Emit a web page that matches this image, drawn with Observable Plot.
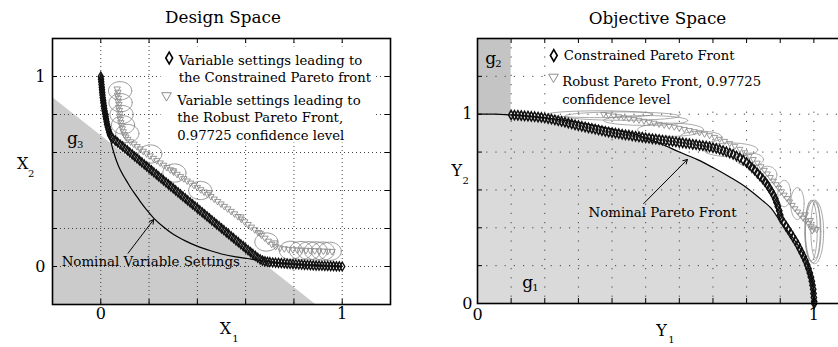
<!DOCTYPE html>
<html><head><meta charset="utf-8">
<script src="https://cdn.jsdelivr.net/npm/d3@7"></script>
<script src="https://cdn.jsdelivr.net/npm/@observablehq/plot@0.6"></script>
<style>
html,body{margin:0;padding:0;background:#fff;overflow:hidden;}
#wrap{position:relative;width:838px;height:347px;overflow:hidden;background:#fff;}
#left{position:absolute;left:0;top:0;width:420px;height:347px;}
#right{position:absolute;left:420px;top:0;width:460px;height:347px;}
#wrap svg{max-width:none !important;display:block;}
</style></head>
<body><div id="wrap"><div id="left"></div><div id="right"></div></div>
<script>
// ---------- text ----------
const panelTitles = ["Design Space", "Objective Space"];
const designLegendLabels = ["Variable settings leading to\nthe Constrained Pareto front",
  "Variable settings leading to\nthe Robust Pareto Front,\n0.97725 confidence level"];
const objLegendLabels = ["Constrained Pareto Front", "Robust Pareto Front, 0.97725\nconfidence level"];

// ---------- axes ----------
const designDomain = [-0.2, 1.2];
const designGrid = [0, 0.2, 0.4, 0.6, 0.8, 1];
const designTickLabels = [0, 1];
const objXDomain = [0, 1.1];
const objYDomain = [0, 1.4];
const objGridX = [0.1, 0.2, 0.3, 0.4, 0.5, 0.6, 0.7, 0.8, 0.9, 1.0];
const objGridY = [0.2, 0.4, 0.6, 0.8, 1.0, 1.2];
const objTickLabels = [0, 1];

// ---------- constraint regions ----------
const g3Boundary = [[-0.2, 0.89], [0.89, -0.2]];           // X1 + X2 limit
const g2Region = {x1: 0, x2: 0.1, y1: 1.0, y2: 1.4};         // Y1 lower limit
const regionLabels = [
  {panel: "design", g: "g", sub: "3", x: -0.14, y: 0.643},
  {panel: "obj", g: "g", sub: "2", x: 0.023, y: 1.263},
  {panel: "obj", g: "g", sub: "1", x: 0.133, y: 0.083}
];

// ---------- design space ----------
const designNominal = [[0.000,1.000],[0.020,0.780],[0.039,0.680],[0.045,0.640],[0.055,0.595],[0.066,0.553],
  [0.080,0.510],[0.095,0.475],[0.108,0.448],[0.125,0.412],[0.145,0.376],[0.163,0.343],[0.190,0.298],
  [0.219,0.255],[0.260,0.208],[0.302,0.168],[0.350,0.135],[0.399,0.107],[0.455,0.083],[0.510,0.063],
  [0.560,0.051],[0.607,0.042],[0.650,0.034],[0.676,0.028],[0.760,0.016],[0.880,0.006],[1.000,0.000]];

const designConstrained = [[0.000,1.000],[0.001,0.986],[0.002,0.972],[0.003,0.958],[0.004,0.944],[0.005,0.930],
  [0.006,0.916],[0.007,0.902],[0.008,0.888],[0.010,0.874],[0.011,0.860],[0.013,0.846],[0.014,0.832],[0.016,0.818],
  [0.018,0.804],[0.020,0.790],[0.022,0.776],[0.024,0.762],[0.026,0.748],[0.029,0.734],[0.032,0.720],[0.035,0.706],
  [0.038,0.694],[0.042,0.684],
  [0.050,0.674],[0.060,0.663],[0.070,0.653],[0.080,0.642],[0.090,0.632],[0.100,0.621],[0.110,0.611],[0.120,0.600],
  [0.130,0.590],[0.140,0.579],[0.150,0.569],[0.160,0.558],[0.170,0.548],[0.180,0.537],[0.190,0.527],[0.200,0.516],
  [0.210,0.506],[0.220,0.495],[0.230,0.485],[0.240,0.474],[0.250,0.464],[0.260,0.453],[0.270,0.443],[0.280,0.432],
  [0.290,0.422],[0.300,0.411],[0.310,0.401],[0.320,0.390],[0.330,0.380],[0.340,0.369],[0.350,0.359],[0.360,0.348],
  [0.370,0.338],[0.380,0.327],[0.390,0.317],[0.400,0.306],[0.410,0.296],[0.420,0.285],[0.430,0.275],[0.440,0.264],
  [0.450,0.254],[0.460,0.243],[0.470,0.233],[0.480,0.222],[0.490,0.212],[0.500,0.201],[0.510,0.191],[0.520,0.180],
  [0.530,0.170],[0.540,0.159],[0.550,0.149],[0.560,0.138],[0.570,0.128],[0.580,0.117],[0.590,0.107],[0.600,0.096],
  [0.610,0.086],[0.620,0.076],[0.630,0.066],[0.640,0.056],[0.650,0.046],[0.660,0.038],[0.670,0.031],
  [0.680,0.027],[0.690,0.025],[0.700,0.023],[0.712,0.021],[0.724,0.020],[0.736,0.019],[0.748,0.018],[0.760,0.016],
  [0.772,0.015],[0.784,0.014],[0.796,0.013],[0.808,0.012],[0.820,0.011],[0.832,0.010],[0.844,0.009],[0.856,0.008],
  [0.868,0.007],[0.880,0.006],[0.892,0.005],[0.904,0.005],[0.916,0.004],[0.928,0.003],[0.940,0.003],[0.952,0.002],
  [0.964,0.002],[0.976,0.001],[0.988,0.001],[1.000,0.000]];

const designRobust = [[0.068,0.935],[0.071,0.918],[0.069,0.902],[0.073,0.886],[0.072,0.870],[0.075,0.854],
  [0.074,0.838],[0.077,0.822],[0.079,0.806],[0.078,0.790],[0.081,0.774],[0.083,0.758],[0.086,0.742],[0.089,0.726],
  [0.093,0.710],[0.098,0.695],[0.104,0.682],[0.112,0.670],[0.124,0.657],[0.137,0.645],[0.150,0.632],[0.163,0.620],
  [0.176,0.607],[0.190,0.594],[0.204,0.583],[0.218,0.570],[0.232,0.558],[0.246,0.546],[0.260,0.534],[0.274,0.522],
  [0.288,0.510],[0.302,0.498],[0.316,0.486],[0.330,0.474],[0.344,0.463],[0.358,0.451],[0.372,0.440],[0.386,0.428],
  [0.400,0.417],[0.414,0.405],[0.428,0.393],[0.442,0.381],[0.456,0.369],[0.470,0.356],[0.484,0.343],[0.498,0.330],
  [0.512,0.317],[0.526,0.304],[0.540,0.291],[0.554,0.278],[0.568,0.264],[0.582,0.250],[0.596,0.236],[0.610,0.222],
  [0.624,0.208],[0.638,0.194],[0.652,0.180],[0.666,0.165],[0.680,0.150],[0.694,0.134],[0.708,0.118],[0.724,0.106],
  [0.742,0.098],[0.760,0.094],[0.778,0.091],[0.796,0.089],[0.814,0.088],[0.832,0.087],[0.850,0.086],[0.868,0.085],
  [0.886,0.084],[0.904,0.083],[0.922,0.082],[0.940,0.081],[0.958,0.080],
  [0.300,0.505],[0.450,0.390],[0.580,0.262],[0.660,0.176],[0.720,0.125]];

const designCircleCenters = [[0.080,0.925],[0.082,0.862],[0.086,0.800],[0.092,0.745],[0.110,0.700],
  [0.205,0.592],[0.305,0.492],[0.412,0.400],[0.686,0.129],[0.787,0.085],[0.829,0.084],[0.863,0.083],
  [0.891,0.082],[0.920,0.081],[0.948,0.080]];
const designCircleRadius = 0.048;

const designNote = [{text: "Nominal Variable Settings", x: 0.207, y: 0.005}];
const designArrow = [{x1: 0.113, y1: 0.07, x2: 0.219, y2: 0.247}];

// ---------- objective space ----------
const objNominal = [[0.000,1.000],[0.050,1.000],[0.100,0.996],[0.150,0.990],[0.200,0.981],[0.250,0.970],
  [0.300,0.956],[0.350,0.940],[0.400,0.921],[0.450,0.901],[0.475,0.890],[0.500,0.874],[0.550,0.840],[0.600,0.800],
  [0.654,0.760],[0.700,0.718],[0.750,0.668],[0.800,0.612],[0.850,0.540],[0.872,0.505],[0.900,0.435],[0.930,0.365],
  [0.961,0.285],[0.980,0.210],[0.992,0.140],[0.998,0.080],[1.000,0.030],[1.001,0.000]];

const objConstrained = [[0.100,0.996],[0.110,0.995],[0.120,0.994],[0.130,0.993],[0.140,0.991],[0.150,0.990],
  [0.160,0.988],[0.170,0.987],[0.180,0.985],[0.190,0.983],[0.200,0.980],[0.210,0.977],[0.220,0.974],[0.230,0.970],
  [0.240,0.966],[0.250,0.962],[0.260,0.958],[0.270,0.953],[0.280,0.949],[0.290,0.944],[0.300,0.940],[0.310,0.936],
  [0.320,0.932],[0.330,0.928],[0.340,0.925],[0.350,0.921],[0.360,0.917],[0.370,0.913],[0.380,0.909],[0.390,0.906],
  [0.400,0.903],[0.410,0.900],[0.420,0.897],[0.430,0.894],[0.440,0.891],[0.450,0.889],[0.460,0.886],[0.470,0.883],
  [0.480,0.880],[0.490,0.878],[0.500,0.875],[0.510,0.873],[0.520,0.870],[0.530,0.868],[0.540,0.866],[0.550,0.863],
  [0.560,0.861],[0.570,0.858],[0.580,0.856],[0.590,0.854],[0.600,0.851],[0.610,0.849],[0.620,0.846],[0.630,0.844],
  [0.640,0.841],[0.650,0.839],[0.660,0.836],[0.670,0.834],[0.680,0.831],[0.690,0.827],[0.700,0.823],[0.710,0.819],
  [0.720,0.814],[0.730,0.808],[0.740,0.802],[0.750,0.795],[0.760,0.788],[0.770,0.779],[0.780,0.770],[0.790,0.758],
  [0.800,0.745],[0.808,0.732],[0.816,0.718],[0.824,0.704],[0.832,0.689],[0.840,0.673],[0.848,0.658],[0.855,0.643],
  [0.862,0.626],[0.868,0.609],[0.874,0.592],[0.880,0.573],[0.885,0.553],[0.889,0.533],[0.893,0.512],[0.897,0.490],
  [0.900,0.468],[0.903,0.447],[0.910,0.428],[0.917,0.409],[0.924,0.390],[0.931,0.371],[0.938,0.351],[0.945,0.331],
  [0.952,0.310],[0.958,0.289],[0.964,0.268],[0.970,0.247],[0.975,0.226],[0.980,0.204],[0.984,0.183],[0.988,0.161],
  [0.991,0.140],[0.994,0.118],[0.996,0.097],[0.998,0.075],[0.999,0.053],[1.000,0.032],[1.001,0.010],[1.001,0.000]];

const objRobust = [[0.375,1.000],[0.390,0.996],[0.405,0.992],[0.420,0.988],[0.435,0.983],[0.450,0.978],
  [0.465,0.973],[0.480,0.969],[0.495,0.964],[0.510,0.959],[0.525,0.954],[0.540,0.948],[0.555,0.943],[0.570,0.938],
  [0.585,0.933],[0.600,0.927],[0.615,0.921],[0.630,0.915],[0.645,0.909],[0.660,0.903],[0.675,0.896],[0.690,0.888],
  [0.705,0.879],[0.720,0.869],[0.735,0.858],[0.750,0.846],[0.765,0.832],[0.780,0.816],[0.795,0.798],[0.808,0.780],
  [0.820,0.762],[0.832,0.743],[0.843,0.724],[0.853,0.705],[0.862,0.686],[0.871,0.667],[0.880,0.648],[0.888,0.629],
  [0.896,0.610],[0.904,0.592],[0.912,0.574],[0.920,0.556],[0.928,0.538],[0.936,0.520],[0.944,0.502],[0.952,0.485],
  [0.960,0.468],[0.968,0.452],[0.976,0.437],[0.984,0.423],[0.992,0.410],[1.000,0.400],[1.008,0.392],
  [0.990,0.440],[0.975,0.470],[0.995,0.385]];

// ellipses: [centre Y1, centre Y2, half-width, half-height]
const objEllipses = [[0.365,1.000,0.155,0.018],[0.430,0.990,0.170,0.022],[0.500,0.967,0.125,0.026],
  [0.574,0.918,0.098,0.035],[0.664,0.880,0.062,0.030],[0.753,0.812,0.080,0.036],[0.810,0.760,0.040,0.035],
  [0.862,0.680,0.028,0.045],[0.912,0.581,0.019,0.070],[0.951,0.528,0.020,0.084],[0.992,0.385,0.018,0.160],
  [0.997,0.380,0.024,0.165],[1.002,0.378,0.027,0.168],[1.005,0.390,0.014,0.150]];

const objNote = [{text: "Nominal Pareto Front", x: 0.55, y: 0.455}];
const objArrow = [{x1: 0.494, y1: 0.528, x2: 0.624, y2: 0.761}];

// ---------- helpers ----------
const angles = d3.range(0, 361, 6).map(a => a * Math.PI / 180);
const outline = list => list.flatMap((e, i) =>
  angles.map(t => ({id: i, x: e[0] + e[2] * Math.cos(t), y: e[1] + e[3] * Math.sin(t)})));
const X = d => d[0], Y = d => d[1];
const FONT = "DejaVu Serif";

function grids(gx, gy, dash) {
  return [
    Plot.ruleX(gx, {stroke: "#444", strokeWidth: 1, strokeDasharray: dash}),
    Plot.ruleY(gy, {stroke: "#444", strokeWidth: 1, strokeDasharray: dash})
  ];
}
function ticks(fw, fh, gx, gy) {
  return [
    Plot.tickX(gx, {x: d => d, insetTop: fh - 5, stroke: "#000"}),
    Plot.tickX(gx, {x: d => d, insetBottom: fh - 5, stroke: "#000"}),
    Plot.tickY(gy, {y: d => d, insetRight: fw - 5, stroke: "#000"}),
    Plot.tickY(gy, {y: d => d, insetLeft: fw - 5, stroke: "#000"})
  ];
}

// ---------- left: design space ----------
const L = {w: 420, h: 347, ml: 52, mr: 30, mt: 38, mb: 43};
const Lfw = L.w - L.ml - L.mr, Lfh = L.h - L.mt - L.mb;
const left = Plot.plot({
  width: L.w, height: L.h, marginLeft: L.ml, marginRight: L.mr, marginTop: L.mt, marginBottom: L.mb,
  x: {domain: designDomain}, y: {domain: designDomain},
  style: {fontFamily: FONT, color: "#000", background: "transparent"},
  marks: [
    Plot.areaY(g3Boundary, {x: X, y1: designDomain[0], y2: Y, fill: "#cbcbcb"}),
    ...grids(designGrid, designGrid, "1,3"),
    Plot.frame({fill: "white", stroke: "none", insetLeft: 108, insetRight: 17, insetTop: 8, insetBottom: 162}),
    Plot.line(designNominal, {x: X, y: Y, stroke: "#000", strokeWidth: 1.2, curve: "catmull-rom"}),
    Plot.line(outline(designCircleCenters.map(c => [c[0], c[1], designCircleRadius, designCircleRadius])),
      {x: "x", y: "y", z: "id", stroke: "#7d7d7d", strokeWidth: 0.8}),
    Plot.dot(designRobust, {x: X, y: Y, symbol: "triangle", rotate: 180, r: 2.4, stroke: "#8e8e8e", strokeWidth: 0.9, fill: "none"}),
    Plot.dot(designConstrained, {x: X, y: Y, symbol: "diamond", r: 2.7, stroke: "#111", strokeWidth: 1.4, fill: "none"}),
    Plot.arrow(designArrow, {x1: "x1", y1: "y1", x2: "x2", y2: "y2", stroke: "#000", strokeWidth: 1, headLength: 7}),
    Plot.text(designNote, {x: "x", y: "y", text: "text", fontSize: 13.4, lineAnchor: "bottom", textAnchor: "middle"}),
    Plot.text(regionLabels.filter(d => d.panel === "design"), {x: "x", y: "y", text: "g", fontSize: 17, textAnchor: "start", lineAnchor: "bottom"}),
    Plot.text(regionLabels.filter(d => d.panel === "design"), {x: "x", y: "y", text: "sub", fontSize: 10, textAnchor: "start", lineAnchor: "bottom", dx: 10, dy: 4}),
    // legend
    Plot.dot([0], {frameAnchor: "top-left", dx: 116.7, dy: 19.5, symbol: "diamond", r: 3.6, stroke: "#000", strokeWidth: 1.6, fill: "none"}),
    Plot.dot([0], {frameAnchor: "top-left", dx: 114, dy: 57, symbol: "triangle", rotate: 180, r: 3.6, stroke: "#8e8e8e", strokeWidth: 1, fill: "none"}),
    Plot.text([designLegendLabels[0]], {frameAnchor: "top-left", dx: 126.3, dy: 14.3, text: d => d, fontSize: 13.2, textAnchor: "start", lineAnchor: "top", lineHeight: 1.31}),
    Plot.text([designLegendLabels[1]], {frameAnchor: "top-left", dx: 124.7, dy: 53.3, text: d => d, fontSize: 13.2, textAnchor: "start", lineAnchor: "top", lineHeight: 1.36}),
    ...ticks(Lfw, Lfh, designGrid, designGrid),
    Plot.axisX({ticks: designTickLabels, tickSize: 0, tickPadding: 3, fontSize: 16, label: null, tickFormat: d3.format("d")}),
    Plot.axisY({ticks: designTickLabels, tickSize: 0, tickPadding: 7, fontSize: 16, label: null, tickFormat: d3.format("d")}),
    Plot.text([panelTitles[0]], {frameAnchor: "top", dx: 1.5, dy: -15.3, text: d => d, fontSize: 16.8, lineAnchor: "bottom"}),
    Plot.text(["X"], {frameAnchor: "bottom", dx: 4, dy: 24.5, text: d => d, fontSize: 16, lineAnchor: "middle"}),
    Plot.text(["1"], {frameAnchor: "bottom", dx: 14, dy: 34.5, text: d => d, fontSize: 10, lineAnchor: "middle"}),
    Plot.text(["X"], {frameAnchor: "left", dx: -35.5, dy: -7.7, text: d => d, fontSize: 16, lineAnchor: "middle"}),
    Plot.text(["2"], {frameAnchor: "left", dx: -24.5, dy: 2, text: d => d, fontSize: 10, lineAnchor: "middle"}),
    Plot.frame({stroke: "#000", strokeWidth: 1.6})
  ]
});
document.getElementById("left").appendChild(left);

// ---------- right: objective space ----------
const R = {w: 460, h: 347, ml: 57, mr: 33, mt: 38, mb: 44};
const Rfw = R.w - R.ml - R.mr, Rfh = R.h - R.mt - R.mb;
const right = Plot.plot({
  width: R.w, height: R.h, marginLeft: R.ml, marginRight: R.mr, marginTop: R.mt, marginBottom: R.mb,
  x: {domain: objXDomain}, y: {domain: objYDomain},
  style: {fontFamily: FONT, color: "#000", background: "transparent"},
  marks: [
    Plot.areaY(objNominal, {x: X, y: Y, fill: "#dadadb"}),
    Plot.rect([g2Region], {x1: "x1", x2: "x2", y1: "y1", y2: "y2", fill: "#c4c4c4"}),
    ...grids(objGridX, objGridY, "1.2,8"),
    Plot.frame({fill: "white", stroke: "none", insetLeft: 69, insetRight: 0, insetTop: 3, insetBottom: 196}),
    Plot.line(objNominal, {x: X, y: Y, stroke: "#000", strokeWidth: 1.2, curve: "catmull-rom"}),
    Plot.line(outline(objEllipses), {x: "x", y: "y", z: "id", stroke: "#858585", strokeWidth: 0.7}),
    Plot.dot(objRobust, {x: X, y: Y, symbol: "triangle", rotate: 180, r: 2.2, stroke: "#8e8e8e", strokeWidth: 0.9, fill: "none"}),
    Plot.dot(objConstrained, {x: X, y: Y, symbol: "diamond", r: 2.8, stroke: "#111", strokeWidth: 1.5, fill: "none"}),
    Plot.arrow(objArrow, {x1: "x1", y1: "y1", x2: "x2", y2: "y2", stroke: "#000", strokeWidth: 1, headLength: 7}),
    Plot.text(objNote, {x: "x", y: "y", text: "text", fontSize: 13.4, lineAnchor: "bottom", textAnchor: "middle"}),
    Plot.text(regionLabels.filter(d => d.panel === "obj"), {x: "x", y: "y", text: "g", fontSize: 17, textAnchor: "start", lineAnchor: "bottom"}),
    Plot.text(regionLabels.filter(d => d.panel === "obj"), {x: "x", y: "y", text: "sub", fontSize: 10, textAnchor: "start", lineAnchor: "bottom", dx: 10, dy: 3}),
    // legend
    Plot.dot([0], {frameAnchor: "top-left", dx: 76.3, dy: 17, symbol: "diamond", r: 3.6, stroke: "#000", strokeWidth: 1.6, fill: "none"}),
    Plot.dot([0], {frameAnchor: "top-left", dx: 76, dy: 38.5, symbol: "triangle", rotate: 180, r: 3.6, stroke: "#8e8e8e", strokeWidth: 1, fill: "none"}),
    Plot.text([objLegendLabels[0]], {frameAnchor: "top-left", dx: 86.3, dy: 11.9, text: d => d, fontSize: 13.2, textAnchor: "start", lineAnchor: "top"}),
    Plot.text([objLegendLabels[1]], {frameAnchor: "top-left", dx: 84.7, dy: 34.6, text: d => d, fontSize: 13.2, textAnchor: "start", lineAnchor: "top", lineHeight: 1.36}),
    ...ticks(Rfw, Rfh, objGridX, objGridY),
    Plot.axisX({ticks: objTickLabels, tickSize: 0, tickPadding: 5, fontSize: 16, label: null, tickFormat: d3.format("d")}),
    Plot.axisY({ticks: objTickLabels, tickSize: 0, tickPadding: 5, fontSize: 16, label: null, tickFormat: d3.format("d")}),
    Plot.text([panelTitles[1]], {frameAnchor: "top", dx: -5, dy: -14.3, text: d => d, fontSize: 16.8, lineAnchor: "bottom"}),
    Plot.text(["Y"], {frameAnchor: "bottom", dx: -1, dy: 27.7, text: d => d, fontSize: 16, lineAnchor: "middle"}),
    Plot.text(["1"], {frameAnchor: "bottom", dx: 9, dy: 36.7, text: d => d, fontSize: 10, lineAnchor: "middle"}),
    Plot.text(["Y"], {frameAnchor: "left", dx: -26, dy: 0, text: d => d, fontSize: 16, lineAnchor: "middle"}),
    Plot.text(["2"], {frameAnchor: "left", dx: -15, dy: 10, text: d => d, fontSize: 10, lineAnchor: "middle"}),
    Plot.frame({stroke: "#000", strokeWidth: 1.6})
  ]
});
document.getElementById("right").appendChild(right);
</script></body></html>
